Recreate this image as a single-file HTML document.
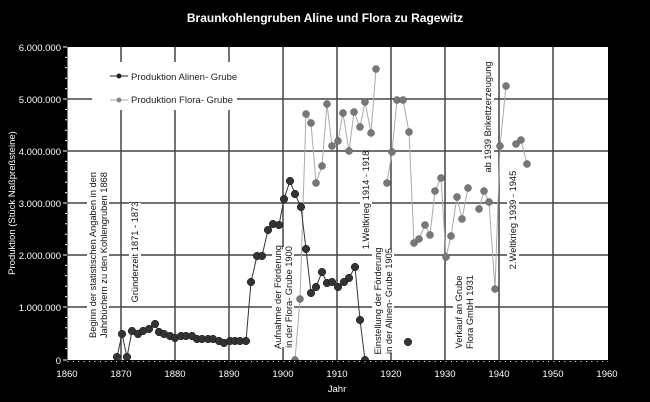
<!DOCTYPE html>
<html><head><meta charset="utf-8"><style>
body{margin:0;background:#000}
svg{display:block;font-family:"Liberation Sans",Arial,sans-serif}
</style></head><body>
<svg width="650" height="402" viewBox="0 0 650 402" xmlns="http://www.w3.org/2000/svg">
<rect width="650" height="402" fill="#000"/>
<text x="325" y="22" fill="#fff" font-size="12" font-weight="bold" text-anchor="middle">Braunkohlengruben Aline und Flora zu Ragewitz</text>
<rect x="67" y="47" width="541" height="313" fill="#fff"/>
<g stroke="#444" stroke-width="1.5">
<line x1="67" y1="99" x2="608" y2="99"/><line x1="67" y1="151" x2="608" y2="151"/><line x1="67" y1="203" x2="608" y2="203"/><line x1="67" y1="255" x2="608" y2="255"/><line x1="67" y1="307" x2="608" y2="307"/>
<line x1="121" y1="47" x2="121" y2="360"/><line x1="175" y1="47" x2="175" y2="360"/><line x1="229" y1="47" x2="229" y2="360"/><line x1="283" y1="47" x2="283" y2="360"/><line x1="337" y1="47" x2="337" y2="360"/><line x1="391" y1="47" x2="391" y2="360"/><line x1="445" y1="47" x2="445" y2="360"/><line x1="499" y1="47" x2="499" y2="360"/><line x1="553" y1="47" x2="553" y2="360"/>
</g>
<rect x="92" y="62" width="145" height="48" fill="#fff"/>
<line x1="110" y1="76" x2="128" y2="76" stroke="#222"/><circle cx="119" cy="76" r="2.5" fill="#222"/>
<text x="131" y="80" font-size="9.5" fill="#222">Produktion Alinen- Grube</text>
<line x1="110" y1="100" x2="128" y2="100" stroke="#aaa"/><circle cx="119" cy="100" r="2.5" fill="#888"/>
<text x="131" y="103" font-size="9.5" fill="#222">Produktion Flora- Grube</text>
<g font-size="9.3" fill="#111" text-anchor="middle">
<g transform="translate(96,255) rotate(-90)"><rect x="-80" y="-9" width="160" height="22" fill="#fff"/><text y="0">Beginn der statistischen Angaben in den</text><text y="11">Jahrbüchern zu den Kohlengruben 1868</text></g>
<g transform="translate(138,252) rotate(-90)"><rect x="-49" y="-9" width="98" height="12" fill="#fff"/><text y="0">Gründerzeit 1871 - 1873</text></g>
<g transform="translate(281,297) rotate(-90)"><rect x="-50" y="-9" width="100" height="22" fill="#fff"/><text y="0">Aufnahme  der Förderung</text><text y="11">in der Flora- Grube 1900</text></g>
<g transform="translate(369,200) rotate(-90)"><rect x="-48" y="-9" width="96" height="12" fill="#fff"/><text y="0">1.Weltkrieg 1914 - 1918</text></g>
<g transform="translate(381,301) rotate(-90)"><rect x="-52" y="-9" width="104" height="22" fill="#fff"/><text y="0">Einstellung  der Förderung</text><text y="11">in der Alinen- Grube 1905</text></g>
<g transform="translate(462,312) rotate(-90)"><rect x="-37" y="-9" width="74" height="22" fill="#fff"/><text y="0">Verkauf an Grube</text><text y="11">Flora GmbH 1931</text></g>
<g transform="translate(491,117) rotate(-90)"><rect x="-52" y="-9" width="104" height="12" fill="#fff"/><text y="0">ab 1939 Brikettzerzeugung</text></g>
<g transform="translate(516,220) rotate(-90)"><rect x="-48" y="-9" width="96" height="12" fill="#fff"/><text y="0">2.Weltkrieg 1939 - 1945</text></g>
</g>
<g stroke="#aaa" stroke-width="1" fill="none">
<polyline points="295,360 300,299 306,114 311,123 316,183 322,166 327,104 332,146 338,141 343,113 349,151 354,112 360,127 365,102 371,133 376,69"/>
<polyline points="387,183 392,152 397,100 403,100 409,132 414,243 419,239 425,225 430,235 435,191 441,178 446,257 451,236 457,197 462,219 468,188"/>
<polyline points="479,209 484,191 489,202 495,289 500,146 506,86"/>
<polyline points="516,144 521,140 527,164"/>
</g>
<g fill="#777" stroke="#555" stroke-width="0.5">
<circle cx="295" cy="360" r="3.5"/><circle cx="300" cy="299" r="3.5"/><circle cx="306" cy="114" r="3.5"/><circle cx="311" cy="123" r="3.5"/><circle cx="316" cy="183" r="3.5"/><circle cx="322" cy="166" r="3.5"/><circle cx="327" cy="104" r="3.5"/><circle cx="332" cy="146" r="3.5"/><circle cx="338" cy="141" r="3.5"/><circle cx="343" cy="113" r="3.5"/><circle cx="349" cy="151" r="3.5"/><circle cx="354" cy="112" r="3.5"/><circle cx="360" cy="127" r="3.5"/><circle cx="365" cy="102" r="3.5"/><circle cx="371" cy="133" r="3.5"/><circle cx="376" cy="69" r="3.5"/>
<circle cx="387" cy="183" r="3.5"/><circle cx="392" cy="152" r="3.5"/><circle cx="397" cy="100" r="3.5"/><circle cx="403" cy="100" r="3.5"/><circle cx="409" cy="132" r="3.5"/><circle cx="414" cy="243" r="3.5"/><circle cx="419" cy="239" r="3.5"/><circle cx="425" cy="225" r="3.5"/><circle cx="430" cy="235" r="3.5"/><circle cx="435" cy="191" r="3.5"/><circle cx="441" cy="178" r="3.5"/><circle cx="446" cy="257" r="3.5"/><circle cx="451" cy="236" r="3.5"/><circle cx="457" cy="197" r="3.5"/><circle cx="462" cy="219" r="3.5"/><circle cx="468" cy="188" r="3.5"/>
<circle cx="479" cy="209" r="3.5"/><circle cx="484" cy="191" r="3.5"/><circle cx="489" cy="202" r="3.5"/><circle cx="495" cy="289" r="3.5"/><circle cx="500" cy="146" r="3.5"/><circle cx="506" cy="86" r="3.5"/><circle cx="516" cy="144" r="3.5"/><circle cx="521" cy="140" r="3.5"/><circle cx="527" cy="164" r="3.5"/>
</g>
<polyline fill="none" stroke="#333" stroke-width="1" points="117,357 122,334 127,357 132,331 138,334 143,331 149,329 155,324 159,332 164,334 170,336 175,338 181,336 186,336 192,336 197,339 202,339 208,339 213,339 219,341 224,343 230,341 235,341 240,341 246,341 251,282 257,256 262,256 268,230 273,224 279,225 284,199 290,181 295,194 301,207 306,249 311,293 316,287 322,272 327,283 332,282 338,287 344,282 349,278 355,267 360,320 365,360"/>
<g fill="#333" stroke="#111" stroke-width="0.5">
<circle cx="117" cy="357" r="3.8"/><circle cx="122" cy="334" r="3.8"/><circle cx="127" cy="357" r="3.8"/><circle cx="132" cy="331" r="3.8"/><circle cx="138" cy="334" r="3.8"/><circle cx="143" cy="331" r="3.8"/><circle cx="149" cy="329" r="3.8"/><circle cx="155" cy="324" r="3.8"/><circle cx="159" cy="332" r="3.8"/><circle cx="164" cy="334" r="3.8"/><circle cx="170" cy="336" r="3.8"/><circle cx="175" cy="338" r="3.8"/><circle cx="181" cy="336" r="3.8"/><circle cx="186" cy="336" r="3.8"/><circle cx="192" cy="336" r="3.8"/><circle cx="197" cy="339" r="3.8"/><circle cx="202" cy="339" r="3.8"/><circle cx="208" cy="339" r="3.8"/><circle cx="213" cy="339" r="3.8"/><circle cx="219" cy="341" r="3.8"/><circle cx="224" cy="343" r="3.8"/><circle cx="230" cy="341" r="3.8"/><circle cx="235" cy="341" r="3.8"/><circle cx="240" cy="341" r="3.8"/><circle cx="246" cy="341" r="3.8"/><circle cx="251" cy="282" r="3.8"/><circle cx="257" cy="256" r="3.8"/><circle cx="262" cy="256" r="3.8"/><circle cx="268" cy="230" r="3.8"/><circle cx="273" cy="224" r="3.8"/><circle cx="279" cy="225" r="3.8"/><circle cx="284" cy="199" r="3.8"/><circle cx="290" cy="181" r="3.8"/><circle cx="295" cy="194" r="3.8"/><circle cx="301" cy="207" r="3.8"/><circle cx="306" cy="249" r="3.8"/><circle cx="311" cy="293" r="3.8"/><circle cx="316" cy="287" r="3.8"/><circle cx="322" cy="272" r="3.8"/><circle cx="327" cy="283" r="3.8"/><circle cx="332" cy="282" r="3.8"/><circle cx="338" cy="287" r="3.8"/><circle cx="344" cy="282" r="3.8"/><circle cx="349" cy="278" r="3.8"/><circle cx="355" cy="267" r="3.8"/><circle cx="360" cy="320" r="3.8"/><circle cx="365" cy="360" r="3.8"/><circle cx="408" cy="342" r="3.8"/>
</g>
<rect x="63" y="360" width="545" height="3" fill="#000"/>
<line x1="67" y1="47" x2="67" y2="360" stroke="#000" stroke-width="1"/>
<g stroke="#fff" stroke-width="1">
<path d="M63 47H67M63 99H67M63 151H67M63 203H67M63 255H67M63 307H67M63 360H67"/>
<path d="M65 57.4H67M65 67.8H67M65 78.2H67M65 88.6H67M65 109.4H67M65 119.8H67M65 130.2H67M65 140.6H67M65 161.4H67M65 171.8H67M65 182.2H67M65 192.6H67M65 213.4H67M65 223.8H67M65 234.2H67M65 244.6H67M65 265.4H67M65 275.8H67M65 286.2H67M65 296.6H67M65 317.4H67M65 327.8H67M65 338.2H67M65 348.6H67"/>
</g>
<path stroke="#fff" stroke-width="1" stroke-dasharray="1 4.4" d="M67.5 361.5H608"/>
<g fill="#fff" font-size="9.5">
<g text-anchor="end"><text x="61" y="51">6.000.000</text><text x="61" y="103">5.000.000</text><text x="61" y="155">4.000.000</text><text x="61" y="207">3.000.000</text><text x="61" y="259">2.000.000</text><text x="61" y="311">1.000.000</text><text x="61" y="364">0</text></g>
<g text-anchor="middle"><text x="67" y="377">1860</text><text x="121" y="377">1870</text><text x="175" y="377">1880</text><text x="229" y="377">1890</text><text x="283" y="377">1900</text><text x="337" y="377">1910</text><text x="391" y="377">1920</text><text x="445" y="377">1930</text><text x="499" y="377">1940</text><text x="553" y="377">1950</text><text x="607" y="377">1960</text>
<text x="337" y="392">Jahr</text>
<text transform="translate(15,203) rotate(-90)">Produktion (Stück Naßpreßsteine)</text></g>
</g>
</svg>
</body></html>
